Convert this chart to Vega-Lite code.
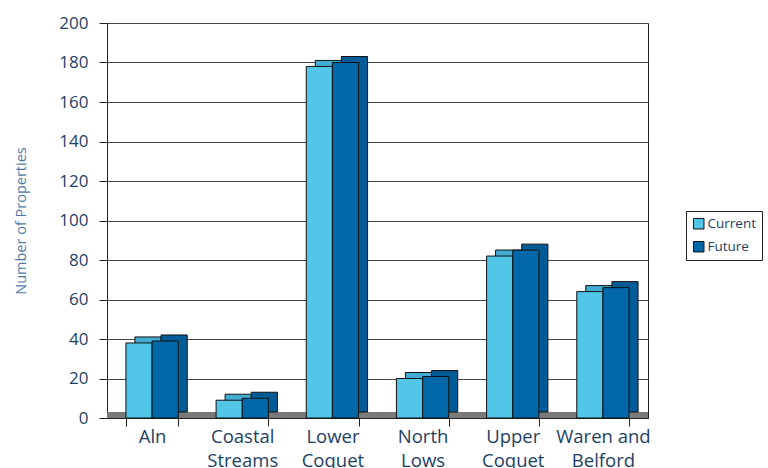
{
  "$schema": "https://vega.github.io/schema/vega-lite/v6.json",
  "width": 541,
  "height": 395,
  "autosize": {"type": "none"},
  "padding": {"left": 107, "top": 23, "right": 120, "bottom": 50},
  "background": "white",
  "config": {
    "font": "Open Sans",
    "view": {"stroke": "#222", "strokeWidth": 1}
  },
  "data": {
    "values": [
      {"region": "Aln", "series": "Current", "value": 38},
      {"region": "Aln", "series": "Future", "value": 39},
      {"region": "Coastal Streams", "series": "Current", "value": 9},
      {"region": "Coastal Streams", "series": "Future", "value": 10},
      {"region": "Lower Coquet", "series": "Current", "value": 178},
      {"region": "Lower Coquet", "series": "Future", "value": 180},
      {"region": "North Lows", "series": "Current", "value": 20},
      {"region": "North Lows", "series": "Future", "value": 21},
      {"region": "Upper Coquet", "series": "Current", "value": 82},
      {"region": "Upper Coquet", "series": "Future", "value": 85},
      {"region": "Waren and Belford", "series": "Current", "value": 64},
      {"region": "Waren and Belford", "series": "Future", "value": 66}
    ]
  },
  "encoding": {
    "x": {
      "field": "region",
      "type": "nominal",
      "sort": null,
      "scale": {"paddingInner": 0.42, "paddingOuter": 0.21},
      "axis": {
        "title": null,
        "labelAngle": 0,
        "labelFontSize": 18.5,
        "labelColor": "#1d3f66",
        "labelPadding": 1,
        "labelLineHeight": 24,
        "tickBand": "extent",
        "tickSize": 8,
        "tickColor": "#222",
        "domainColor": "#222",
        "labelExpr": "lastindexof(datum.label, ' ') > 0 ? [slice(datum.label, 0, lastindexof(datum.label, ' ')), slice(datum.label, lastindexof(datum.label, ' ') + 1)] : datum.label"
      }
    },
    "y": {
      "field": "value",
      "type": "quantitative",
      "scale": {"domain": [0, 200]},
      "axis": {
        "title": "Number of Properties",
        "titleFontSize": 14.5,
        "titleFontWeight": "normal",
        "titleColor": "#4f7aa6",
        "titlePadding": 30,
        "values": [0, 20, 40, 60, 80, 100, 120, 140, 160, 180, 200],
        "labelFontSize": 17,
        "labelColor": "#1d3f66",
        "labelPadding": 11,
        "tickSize": 8,
        "tickColor": "#222",
        "domainColor": "#222",
        "gridColor": "#444",
        "gridWidth": 1
      }
    }
  },
  "layer": [
    {
      "mark": {"type": "rule", "color": "#7a7a7a", "strokeWidth": 6, "yOffset": -3},
      "encoding": {
        "y": {"datum": 0},
        "x": null
      }
    },
    {
      "mark": {"type": "bar", "yOffset": -6, "y2Offset": -6, "stroke": "#111", "strokeWidth": 1},
      "encoding": {
        "xOffset": {"field": "series", "type": "nominal", "sort": ["Current", "Future"], "scale": {"range": [9, 61.3]}},
        "color": {
          "field": "series",
          "type": "nominal",
          "scale": {"domain": ["Current", "Future"], "range": ["#43acd2", "#005b96"]},
          "legend": null
        }
      }
    },
    {
      "mark": {"type": "bar", "stroke": "#111", "strokeWidth": 1},
      "encoding": {
        "xOffset": {"field": "series", "type": "nominal", "sort": ["Current", "Future"]},
        "color": {
          "field": "series",
          "type": "nominal",
          "scale": {"domain": ["Current", "Future"], "range": ["#52c6e8", "#0068a9"]},
          "legend": {
            "title": null,
            "orient": "none",
            "legendX": 579,
            "legendY": 188,
            "symbolType": "square",
            "symbolSize": 110,
            "symbolStrokeColor": "#111",
            "symbolStrokeWidth": 1,
            "labelFontSize": 13.5,
            "labelColor": "#1d3f66",
            "labelOffset": 2,
            "rowPadding": 8,
            "strokeColor": "#222",
            "padding": 6
          }
        }
      }
    }
  ],
  "resolve": {"scale": {"color": "independent", "xOffset": "independent"}}
}
